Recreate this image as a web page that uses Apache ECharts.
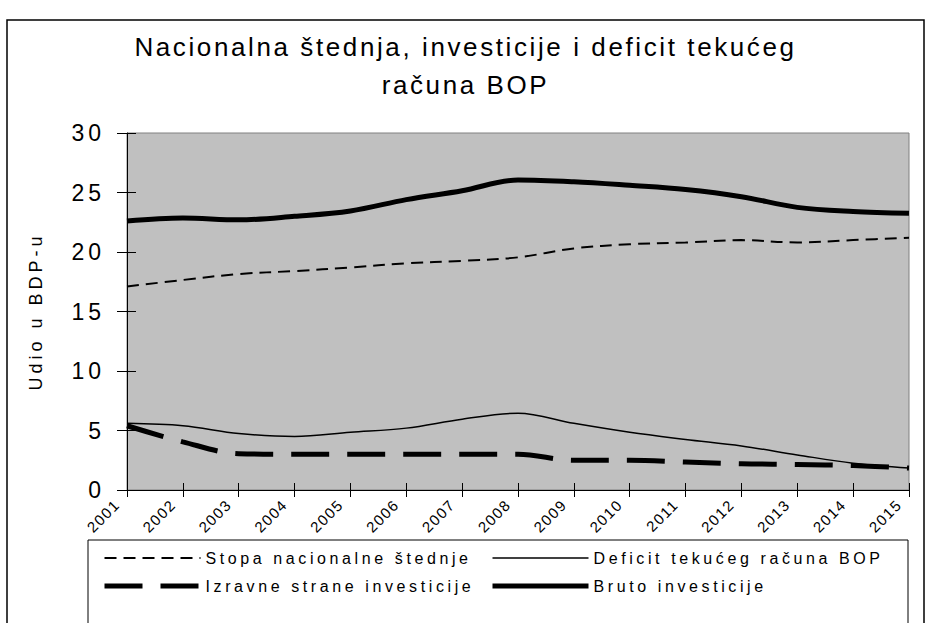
<!DOCTYPE html>
<html>
<head>
<meta charset="utf-8">
<script src="https://cdn.jsdelivr.net/npm/echarts@6/dist/echarts.min.js"></script>
<style>
  html, body { margin: 0; padding: 0; background: #fff; }
  #chart { width: 931px; height: 623px; }
</style>
</head>
<body>
<div id="chart"></div>
<script>
var years = ['2001', '2002', '2003', '2004', '2005', '2006', '2007', '2008',
  '2009', '2010', '2011', '2012', '2013', '2014', '2015']

// udio u BDP-u, %
var stopaStednje = [17.1, 17.65, 18.15, 18.4, 18.7, 19.05, 19.25, 19.55, 20.3, 20.65, 20.8, 21.0, 20.8, 21.0, 21.2]
var deficitBop = [5.6, 5.4, 4.75, 4.5, 4.85, 5.2, 5.95, 6.45, 5.6, 4.85, 4.25, 3.7, 2.95, 2.25, 1.85]
var izravneInv = [5.4, 4.05, 3.05, 3.0, 3.0, 3.0, 3.0, 3.0, 2.5, 2.5, 2.35, 2.2, 2.15, 2.05, 1.85]
var brutoInv = [22.6, 22.85, 22.7, 23.0, 23.45, 24.4, 25.15, 26.05, 25.9, 25.6, 25.25, 24.65, 23.75, 23.4, 23.25]

var yTicks = [0, 5, 10, 15, 20, 25, 30]

var font = 'Liberation Sans, Arial, sans-serif'

// Excel-style spaced lettering, by font size (svg renderer honours letter-spacing)
var spacing = { 26: '2.6px', 16: '3.6px', 15: '1.5px', 23: '4px', 18: '4px' }

var chart = echarts.init(document.getElementById('chart'), null, { renderer: 'svg' })

var option = {
  backgroundColor: '#fff',
  animation: false,
  title: {
    text: 'Nacionalna štednja, investicije i deficit tekućeg\nračuna BOP',
    left: 'center',
    top: 23,
    textStyle: {
      fontFamily: font,
      fontWeight: 'normal',
      fontSize: 26,
      lineHeight: 38,
      color: '#000'
    }
  },
  graphic: [
    {
      type: 'rect',
      z: -10,
      shape: { x: 7, y: 20, width: 917, height: 640 },
      style: { fill: 'none', stroke: '#000', lineWidth: 1.5 }
    },
    {
      type: 'rect',
      z: -10,
      shape: { x: 88, y: 540, width: 820, height: 120 },
      style: { fill: '#fff', stroke: '#000', lineWidth: 1 }
    }
  ],
  legend: [
    {
      orient: 'vertical',
      left: 97,
      top: 545,
      itemWidth: 96,
      itemHeight: 14,
      itemGap: 12,
      itemStyle: { opacity: 0 },
      textStyle: { fontFamily: font, fontSize: 16, color: '#000' },
      data: [
        { name: 'Stopa nacionalne štednje', lineStyle: { width: 2 } },
        { name: 'Izravne strane investicije', lineStyle: { width: 5 } }
      ]
    },
    {
      orient: 'vertical',
      left: 485,
      top: 545,
      itemWidth: 96,
      itemHeight: 14,
      itemGap: 12,
      itemStyle: { opacity: 0 },
      textStyle: { fontFamily: font, fontSize: 16, color: '#000' },
      data: [
        { name: 'Deficit tekućeg računa BOP', lineStyle: { width: 1.5 } },
        { name: 'Bruto investicije', lineStyle: { width: 5 } }
      ]
    }
  ],
  grid: {
    left: 127,
    right: 22,
    top: 133,
    bottom: 133,
    show: true,
    backgroundColor: '#c0c0c0',
    borderColor: '#808080',
    borderWidth: 1
  },
  xAxis: [
    {
      type: 'category',
      data: years,
      boundaryGap: false,
      axisLine: { lineStyle: { color: '#000', width: 1 } },
      axisTick: { show: true, length: 7, lineStyle: { color: '#000' } },
      axisLabel: {
        rotate: 45,
        interval: 0,
        margin: 2,
        padding: [0, 14, 0, 0],
        fontFamily: font,
        fontSize: 15,
        color: '#000'
      },
      splitLine: { show: false }
    },
    {
      // inner half of the crossing tick marks
      type: 'category',
      data: years,
      position: 'bottom',
      boundaryGap: false,
      axisLine: { show: false },
      axisTick: { show: true, inside: true, length: 7, lineStyle: { color: '#000' } },
      axisLabel: { show: false },
      splitLine: { show: false }
    }
  ],
  yAxis: [
    {
      type: 'value',
      min: yTicks[0],
      max: yTicks[yTicks.length - 1],
      interval: 5,
      name: 'Udio u BDP-u',
      nameLocation: 'middle',
      nameGap: 82,
      nameTextStyle: { fontFamily: font, fontSize: 18, color: '#000' },
      axisLine: { show: true, lineStyle: { color: '#000', width: 1 } },
      axisTick: { show: true, length: 10, lineStyle: { color: '#000' } },
      axisLabel: { margin: 22, fontFamily: font, fontSize: 23, color: '#000' },
      splitLine: { show: false }
    },
    {
      type: 'value',
      position: 'left',
      min: yTicks[0],
      max: yTicks[yTicks.length - 1],
      interval: 5,
      axisLine: { show: false },
      axisTick: { show: true, inside: true, length: 9, lineStyle: { color: '#000' } },
      axisLabel: { show: false },
      splitLine: { show: false }
    }
  ],
  series: [
    {
      name: 'Stopa nacionalne štednje',
      type: 'line',
      data: stopaStednje,
      symbol: 'none',
      smooth: 0.35,
      color: '#000',
      lineStyle: { color: '#000', width: 2, type: [12, 7] }
    },
    {
      name: 'Deficit tekućeg računa BOP',
      type: 'line',
      data: deficitBop,
      symbol: 'none',
      smooth: 0.35,
      color: '#000',
      lineStyle: { color: '#000', width: 1.5 }
    },
    {
      name: 'Izravne strane investicije',
      type: 'line',
      data: izravneInv,
      symbol: 'none',
      smooth: 0.35,
      color: '#000',
      lineStyle: { color: '#000', width: 5, type: [38, 18] }
    },
    {
      name: 'Bruto investicije',
      type: 'line',
      data: brutoInv,
      symbol: 'none',
      smooth: 0.35,
      color: '#000',
      lineStyle: { color: '#000', width: 5 }
    }
  ]
}

function spaceLetters() {
  var texts = document.querySelectorAll('#chart svg text')
  for (var i = 0; i < texts.length; i++) {
    var size = Math.round(parseFloat(getComputedStyle(texts[i]).fontSize))
    if (spacing[size]) texts[i].style.letterSpacing = spacing[size]
  }
}

chart.on('finished', spaceLetters)
chart.setOption(option)
spaceLetters()
</script>
</body>
</html>
